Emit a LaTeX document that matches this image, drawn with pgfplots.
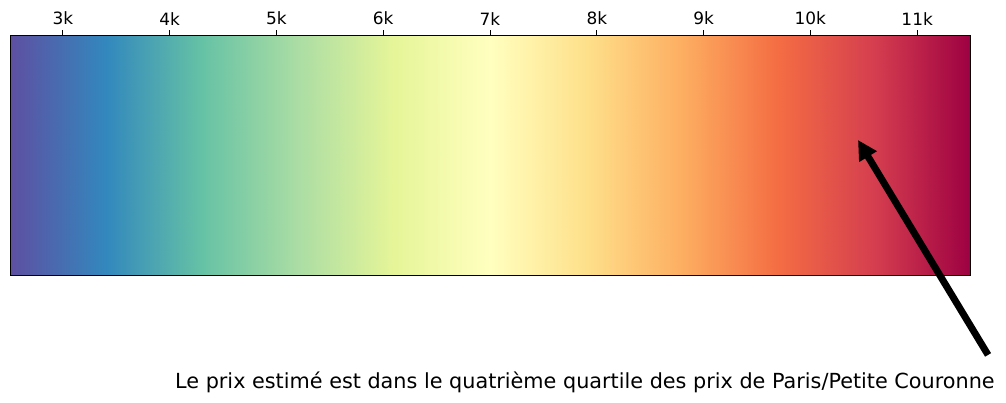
\documentclass[border=0pt]{standalone}
\usepackage{fontspec}
\setmainfont{DejaVu Sans}
\usepackage{pgfplots}
\pgfplotsset{compat=1.18}
\usetikzlibrary{arrows.meta}
\begin{document}
\begin{tikzpicture}[x=1pt,y=1pt]
\path[use as bounding box] (-7.2pt,-91.44pt) rectangle (717.12pt,198pt);
\begin{axis}[
  at={(0,0)}, anchor=south west,
  width=691.2pt, height=172.8pt, scale only axis,
  xmin=2505, xmax=11495, ymin=0, ymax=1,
  clip=false,
  scaled x ticks=false, scaled y ticks=false,
  colormap={spectralr}{rgb255=(94,79,162) rgb255=(50,136,189) rgb255=(102,194,165) rgb255=(171,221,164) rgb255=(230,245,152) rgb255=(255,255,191) rgb255=(254,224,139) rgb255=(253,174,97) rgb255=(244,109,67) rgb255=(213,62,79) rgb255=(158,1,66)},
  xtick={3000,4000,5000,6000,7000,8000,9000,10000,11000},
  xticklabels={3k,4k,5k,6k,7k,8k,9k,10k,11k},
  xticklabel pos=upper, xtick pos=upper,
  tick align=outside, major tick length=3.5pt,
  ytick=\empty,
  tick label style={font=\fontsize{12.2}{14}\selectfont},
  axis line style={line width=0.6pt},
  xtick style={line width=0.6pt,black},
  axis on top,
]
\addplot[surf, shader=interp, point meta=x] coordinates {
(2505,0) (3404,0) (4303,0) (5202,0) (6101,0) (7000,0) (7899,0) (8798,0) (9697,0) (10596,0) (11495,0)

(2505,1) (3404,1) (4303,1) (5202,1) (6101,1) (7000,1) (7899,1) (8798,1) (9697,1) (10596,1) (11495,1)
};
\draw[line width=5pt, -{Triangle[width=14pt,length=14pt]}] (axis cs:11664,-0.333) -- (axis cs:10446,0.5625);
\node[anchor=base east, font=\fontsize{14.95}{18}\selectfont, inner sep=0pt] at (axis cs:11729,-0.471) {Le prix estimé est dans le quatrième quartile des prix de Paris/Petite Couronne};
\end{axis}
\end{tikzpicture}
\end{document}
